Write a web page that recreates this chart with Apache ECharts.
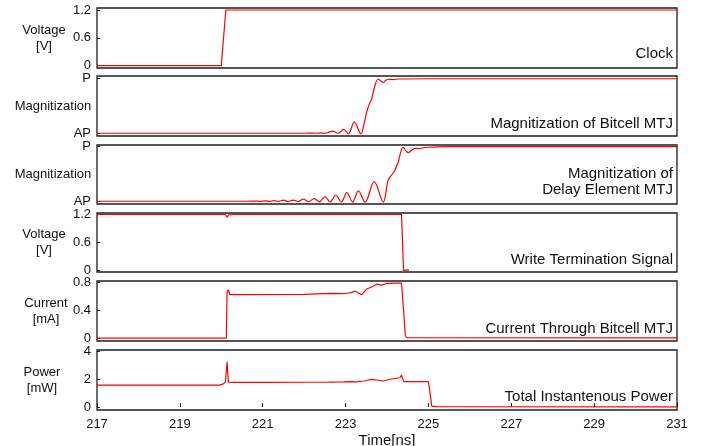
<!DOCTYPE html>
<html><head><meta charset="utf-8">
<script src="https://cdn.jsdelivr.net/npm/echarts@6/dist/echarts.min.js"></script>
<style>html,body{margin:0;padding:0;background:#fff}#c{width:716px;height:446px}</style>
</head><body><div id="c"></div>
<script>
// ---- data (time in ns) ----
const xTicks = [217, 219, 221, 223, 225, 227, 229, 231];

const clockT = [217, 220.0, 220.11, 231];
const clockV = [0, 0, 1.2, 1.2];

const bitT = [217, 222.0, 222.2, 222.3, 222.4, 222.5, 222.58, 222.69, 222.82, 222.95, 223.07, 223.21, 223.37, 223.44, 223.51, 223.57, 223.63, 223.71, 223.79, 223.85, 223.91, 223.97, 224.03, 224.15, 224.3, 225.0, 231];
const bitV = [0, 0, 0.003, 0.0, 0.008, 0.0, 0.015, 0.04, 0.0, 0.07, -0.01, 0.21, -0.01, 0.15, 0.39, 0.53, 0.63, 0.88, 0.995, 0.96, 0.93, 0.97, 0.99, 0.985, 0.995, 1.0, 1.0];

const delayT = [217, 220.6, 220.8, 220.93, 221.06, 221.18, 221.27, 221.38, 221.5, 221.62, 221.74, 221.86, 221.98, 222.11, 222.24, 222.37, 222.5, 222.63, 222.76, 222.9, 223.03, 223.17, 223.31, 223.47, 223.69, 223.91, 224.03, 224.17, 224.27, 224.39, 224.51, 224.6, 224.68, 224.78, 224.9, 225.0, 225.5, 231];
const delayV = [0, 0, 0.004, -0.002, 0.006, -0.002, 0.012, -0.003, 0.02, -0.005, 0.022, -0.005, 0.04, -0.01, 0.05, -0.01, 0.085, -0.01, 0.11, -0.01, 0.16, -0.015, 0.19, -0.015, 0.36, -0.015, 0.39, 0.54, 0.72, 0.99, 0.89, 0.94, 0.97, 0.965, 0.985, 0.99, 1.0, 1.0];

const wtsT = [217, 220.1, 220.14, 220.18, 220.3, 224.35, 224.4, 224.45, 224.5, 224.53];
const wtsV = [1.2, 1.2, 1.14, 1.19, 1.2, 1.2, 0.0, 0.012, 0.015, 0.0];

const curT = [217, 220.12, 220.14, 220.17, 220.21, 222.0, 222.62, 222.87, 223.03, 223.13, 223.23, 223.39, 223.51, 223.63, 223.75, 223.87, 223.99, 224.2, 224.35, 224.4, 224.44, 224.47, 231];
const curV = [0, 0, 0.66, 0.69, 0.62, 0.625, 0.64, 0.635, 0.64, 0.65, 0.67, 0.62, 0.70, 0.73, 0.77, 0.757, 0.78, 0.786, 0.786, 0.4, 0.05, 0.008, 0.005];

const powT = [217, 219.95, 220.05, 220.1, 220.14, 220.17, 220.3, 221.0, 222.0, 222.6, 222.95, 223.1, 223.25, 223.45, 223.55, 223.63, 223.75, 223.91, 224.0, 224.11, 224.31, 224.35, 224.38, 224.41, 225.0, 225.03, 225.08, 225.2, 231];
const powV = [1.57, 1.57, 1.65, 1.8, 3.22, 1.78, 1.76, 1.76, 1.77, 1.78, 1.79, 1.81, 1.8, 1.86, 1.93, 1.98, 1.93, 1.86, 1.93, 2.0, 2.09, 2.29, 2.0, 1.81, 1.81, 1.2, 0.07, 0.03, 0.02];

const voltTicks = [0, 0.6, 1.2];
const magTicks = [0, 1];
const magTickLabels = ['AP', 'P'];
const curTicks = [0, 0.4, 0.8];
const powTicks = [0, 2, 4];

const yNames = ['Voltage\n[V]', 'Magnitization', 'Magnitization', 'Voltage\n[V]', 'Current\n[mA]', 'Power\n[mW]'];
const panelTitles = ['Clock', 'Magnitization of Bitcell MTJ', 'Magnitization of\nDelay Element MTJ', 'Write Termination Signal', 'Current Through Bitcell MTJ', 'Total Instantenous Power'];

// ---- layout ----
const FONT = '"Liberation Sans", Arial, Helvetica, sans-serif';
const tops = [8, 76, 145, 213, 281, 350];
const heights = [60, 60, 59, 59, 60, 60];
const yMin = [-0.05, -0.05, -0.05, -0.03, -0.04, -0.21];
const yMax = [1.243, 1.05, 1.031, 1.232, 0.815, 4.07];
const nameGaps = [53, 44, 44, 53, 51, 55];
const titleY = [53.5, 123.5, 182, 259.5, 328.5, 397];

const zip = (t, v) => t.map((x, i) => [x, v[i]]);
const seriesData = [zip(clockT, clockV), zip(bitT, bitV), zip(delayT, delayV), zip(wtsT, wtsV), zip(curT, curV), zip(powT, powV)];
const tickSets = [voltTicks, magTicks, magTicks, voltTicks, curTicks, powTicks];

const grids = [], xAxes = [], yAxes = [], series = [], graphics = [];
for (let i = 0; i < 6; i++) {
  grids.push({left: 97, width: 580, top: tops[i], height: heights[i], show: true,
    outerBoundsMode: 'none', containLabel: false,
    borderColor: '#1e1e1e', borderWidth: 1.3, backgroundColor: 'transparent'});
  const last = i === 5;
  xAxes.push({type: 'value', gridIndex: i, min: 217, max: 231,
    axisLine: {show: false}, splitLine: {show: false},
    axisTick: {show: last, inside: true, length: 4, lineStyle: {color: '#1e1e1e'}, customValues: xTicks},
    axisLabel: {show: last, customValues: xTicks, margin: 8, fontSize: 13, color: '#111', fontFamily: FONT},
    name: last ? 'Time[ns]' : '', nameLocation: 'middle', nameGap: 23, nameMoveOverlap: false,
    nameTextStyle: {fontSize: 15, color: '#111', fontFamily: FONT}
  });
  const isMag = (i === 1 || i === 2);
  yAxes.push({type: 'value', gridIndex: i, min: yMin[i], max: yMax[i],
    axisLine: {show: false}, splitLine: {show: false},
    axisTick: {show: true, inside: true, length: 3, lineStyle: {color: '#1e1e1e'}, customValues: tickSets[i]},
    axisLabel: {customValues: tickSets[i], margin: 6, fontSize: 13, color: '#111', fontFamily: FONT,
      formatter: isMag ? (v => magTickLabels[magTicks.indexOf(Math.round(v))]) : (v => String(v))},
    name: yNames[i], nameLocation: 'middle', nameRotate: 0, nameGap: nameGaps[i], nameMoveOverlap: false,
    nameTextStyle: {fontSize: 13, color: '#111', fontFamily: FONT, align: 'center', verticalAlign: 'middle', lineHeight: 16}
  });
  series.push({type: 'line', xAxisIndex: i, yAxisIndex: i, data: seriesData[i],
    showSymbol: false, smooth: isMag ? 0.35 : false, animation: false,
    lineStyle: {color: '#ff0000', width: 1.2}});
  graphics.push({type: 'text', x: 673, y: titleY[i],
    style: {text: panelTitles[i], font: '15px ' + FONT, fill: '#111', textAlign: 'right', textVerticalAlign: 'middle', lineHeight: 16}});
}

const chart = echarts.init(document.getElementById('c'), null, {renderer: 'canvas'});
chart.setOption({animation: false, backgroundColor: '#fff', grid: grids, xAxis: xAxes, yAxis: yAxes, series: series, graphic: graphics});
</script></body></html>
